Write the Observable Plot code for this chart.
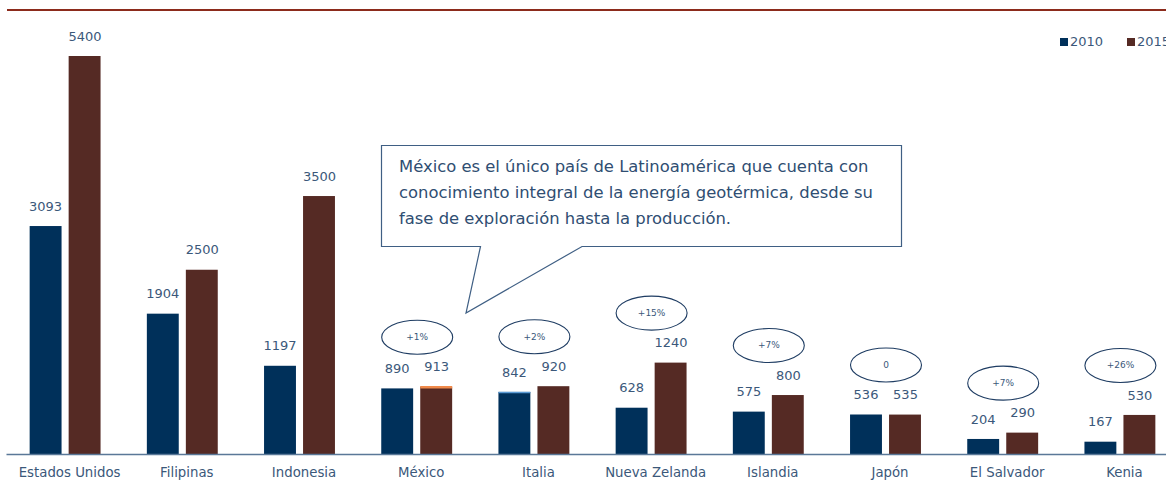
<!DOCTYPE html>
<html><head><meta charset="utf-8">
<script src="https://cdn.jsdelivr.net/npm/d3@7"></script>
<script src="https://cdn.jsdelivr.net/npm/@observablehq/plot@0.6"></script>
<style>
html,body{margin:0;padding:0;background:#fff;overflow:hidden;width:1166px;height:494px;}
#wrap{position:relative;width:1166px;height:494px;overflow:hidden;font-family:"DejaVu Sans",sans-serif;}
#topline{position:absolute;left:7px;top:9px;width:1200px;height:1.5px;background:#8c2b1c;}
.leg{position:absolute;top:34px;font-size:13px;color:#3b587a;white-space:nowrap;}
.leg i{display:inline-block;width:8px;height:8px;margin-right:2px;vertical-align:0px;}
#callout{position:absolute;left:0;top:0;}
</style></head><body><div id="wrap"><div id="topline"></div></div>
<script>
const countries = ["Estados Unidos","Filipinas","Indonesia","México","Italia","Nueva Zelanda","Islandia","Japón","El Salvador","Kenia"];
const years = ["2010","2015"];
const values2010 = [3093,1904,1197,890,842,628,575,536,204,167];
const values2015 = [5400,2500,3500,913,920,1240,800,535,290,530];
const changeLabels = [null,null,null,"+1%","+2%","+15%","+7%","0","+7%","+26%"];
const highlightTops = [{country:"México", year:"2015"},{country:"Italia", year:"2010"}];
const calloutLines = [
  "México es el único país de Latinoamérica que cuenta con",
  "conocimiento integral de la energía geotérmica, desde su",
  "fase de exploración hasta la producción."
];

const navy = "#00305a", brown = "#552a24", textCol = "#3b587a", axisCol = "#5a7898";

const rows = countries.flatMap((c,i)=>[
  {country:c, year:years[0], value:values2010[i]},
  {country:c, year:years[1], value:values2015[i]}
]);
const r2010 = rows.filter(d=>d.year===years[0]);
const r2015 = rows.filter(d=>d.year===years[1]);
const changes = countries.map((c,i)=>({country:c, label:changeLabels[i], top:Math.max(values2010[i],values2015[i])})).filter(d=>d.label!==null);
const hl = highlightTops.map(h=>rows.find(r=>r.country===h.country && r.year===h.year));

const inset = 39;
const plot = Plot.plot({
  width: 1182, height: 494,
  marginLeft: 6.5, marginRight: 3.5, marginTop: 56, marginBottom: 40,
  style: {fontFamily: "'DejaVu Sans', sans-serif", fontSize: "13px", color: textCol, background: "transparent", overflow: "visible"},
  x: {domain: countries, paddingInner: 0.395, paddingOuter: 0.1975, round: false, axis: null},
  y: {domain: [0, d3.max(values2015)], axis: null},
  marks: [
    Plot.barY(r2010, {x:"country", y:"value", fill: navy, insetRight: inset}),
    Plot.barY(r2015, {x:"country", y:"value", fill: brown, insetLeft: inset}),
    Plot.tickY(hl.filter(d=>d.year===years[1]), {x:"country", y:"value", stroke:"#f08a4b", strokeWidth:2.5, insetLeft: inset}),
    Plot.tickY(hl.filter(d=>d.year===years[0]), {x:"country", y:"value", stroke:"#5b9bd5", strokeWidth:1.5, insetRight: inset}),
    Plot.ruleY([0], {stroke: axisCol, strokeWidth: 1.5}),
    Plot.axisX({tickSize: 0, tickPadding: 13, label: null, dx: 4, fill: textCol, fontSize: 13.3}),
    Plot.text(r2010, {x:"country", y:"value", text:d=>String(d.value), dy:-20, dx:-20, fill:textCol, fontSize:13}),
    Plot.text(r2015, {x:"country", y:"value", text:d=>String(d.value), dy:-20, dx:19.5, fill:textCol, fontSize:13}),
    Plot.dot(changes, {x:"country", y:"top", r:17, dy:-50, dx:0, stroke:"#1f3d63", strokeWidth:1.1, fill:"none"}),
    Plot.text(changes, {x:"country", y:"top", text:"label", dy:-50, dx:0, fill:textCol, fontSize:9})
  ]
});
// turn the change markers into ellipses
plot.querySelectorAll("circle").forEach(c=>{
  const e = document.createElementNS("http://www.w3.org/2000/svg","ellipse");
  for (const a of c.attributes) if (a.name!=="r") e.setAttribute(a.name, a.value);
  e.setAttribute("rx", 35.5); e.setAttribute("ry", 17);
  c.replaceWith(e);
});
const wrap = document.getElementById("wrap");
plot.style.position = "absolute"; plot.style.left = "0"; plot.style.top = "0";
plot.style.maxWidth = "none"; plot.style.width = "1182px"; plot.style.height = "494px";
wrap.appendChild(plot);

// legend
years.forEach((y,i)=>{
  const d = document.createElement("div");
  d.className = "leg";
  d.style.left = (1060 + i*67) + "px";
  d.innerHTML = `<i style="background:${i?brown:navy}"></i>${y}`;
  wrap.appendChild(d);
});

// callout
const svg = d3.create("svg").attr("id","callout").attr("width",1166).attr("height",494);
svg.append("path")
  .attr("d","M381.5,145.5 H901.5 V246.5 H582 L466,313 L480.5,246.5 H381.5 Z")
  .attr("fill","#fff").attr("stroke","#3f5f84").attr("stroke-width",1.2);
svg.append("g").selectAll("text").data(calloutLines).join("text")
  .attr("x",399).attr("y",(d,i)=>171.5+i*26)
  .attr("fill","#2f4e72").attr("font-family","'DejaVu Sans', sans-serif").attr("font-size",16.4)
  .text(d=>d);
wrap.appendChild(svg.node());
</script></body></html>
